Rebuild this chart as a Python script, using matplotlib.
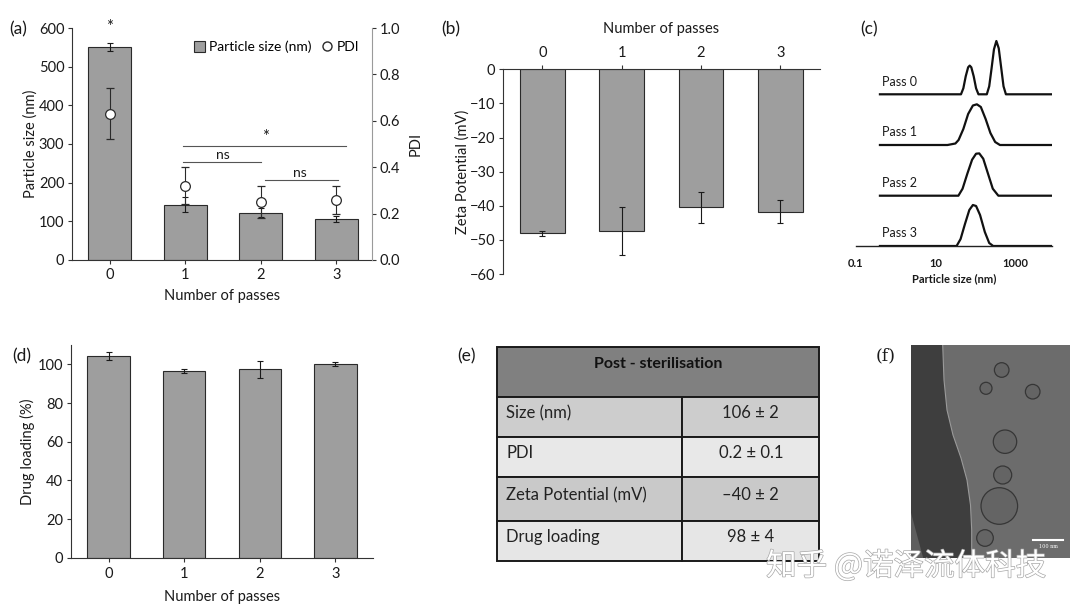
import matplotlib
matplotlib.use('Agg')
import matplotlib.pyplot as plt
import matplotlib.patheffects as pe
from matplotlib.patches import Rectangle, Polygon, Circle
from matplotlib.lines import Line2D

plt.rcParams['font.family'] = ['Lato', 'DejaVu Sans']
plt.rcParams['axes.unicode_minus'] = True

# ---------------- data ----------------
passes = [0, 1, 2, 3]
pass_labels = ['0', '1', '2', '3']

size_nm = [550, 143, 122, 105]
size_err = [10, 19, 12, 8]
pdi = [0.63, 0.32, 0.25, 0.26]
pdi_err = [0.11, 0.08, 0.07, 0.06]

sig_lines = [(0.97, 3.13, 296), (0.97, 2.0, 254), (2.05, 3.02, 207)]
sig_texts = [('*', 2.06, 318), ('ns', 1.5, 272), ('ns', 2.51, 226)]
sig_top = ('*', 0, 603)

zeta = [-48.1, -47.4, -40.5, -41.7]
zeta_err = [0.8, 7.1, 4.6, 3.4]

drug = [104.3, 96.5, 97.4, 100.0]
drug_err = [2.0, 1.2, 4.3, 1.0]

# DLS size distributions (size in nm, intensity in arbitrary units)
dist_names = ['Pass 0', 'Pass 1', 'Pass 2', 'Pass 3']
dist_offsets = [151.7, 101.0, 50.3, 0.0]
dist0_x = [0.4, 43.7, 50.1, 57.5, 66.1, 72.4, 79.4, 91.2, 104.7, 120.2,
           195, 224, 257, 295, 339, 389, 447, 513, 589, 8000]
dist0_y = [0, 0, 6, 18, 27, 28.7, 27, 18, 6, 0,
           0, 8, 26, 45, 53.3, 46, 27, 8, 0, 0]
dist1_x = [0.4, 20, 31.6, 38, 50.1, 66.1, 87.1, 109.6, 138, 182, 240, 316, 417, 8000]
dist1_y = [0, 0, 1.5, 5, 16, 31, 39.5, 40.7, 38, 26, 12, 3, 0, 0]
dist2_x = [0.4, 37.6, 47.9, 63.1, 83.2, 104.7, 125.9, 158.5, 208.9, 275.4, 380.2, 8000]
dist2_y = [0, 0, 7, 22, 36, 42, 42.3, 37, 22, 7, 0, 0]
dist3_x = [0.4, 33.9, 42.7, 55.0, 70.8, 87.1, 104.7, 131.8, 173.8, 223.9, 281.8, 8000]
dist3_y = [0, 0, 7, 22, 36, 41, 40, 31, 14, 3, 0, 0]
dist_ticks = [0.1, 10, 1000]
dist_ticklabels = ['0.1', '10', '1000']

table_header = 'Post - sterilisation'
table_params = ['Size (nm)', 'PDI', 'Zeta Potential (mV)', 'Drug loading']
table_values = ['106 \u00b1 2', '0.2 \u00b1 0.1', '\u201340 \u00b1 2', '98 \u00b1 4']

# TEM micrograph features (pixel frame)
tem_edge_x = [942.7, 944, 947, 953, 961, 967, 970.5, 971.7, 971.7]
tem_edge_y = [345, 380, 410, 435, 458, 480, 505, 530, 558.3]
tem_vesicles = [(1001.7, 370, 7.3), (986, 388.3, 6), (1032.7, 391.7, 7.3),
                (1005, 441.7, 11.7), (1002.7, 475, 9), (999.3, 506, 18.3),
                (985, 538, 8.3)]

# ---------------- style ----------------
W, H = 1080, 609
BAR = '#9e9e9e'
EDGE = '#2a2a2a'
AX = '#333333'
TXT = '#1a1a1a'
FS = 10.5
FL = 10.5

fig = plt.figure(figsize=(W / 100, H / 100), dpi=100)


def ax_px(l, t, r, b):
    return fig.add_axes([l / W, 1 - b / H, (r - l) / W, (b - t) / H])


def fpx(x, y):
    return x / W, 1 - y / H


def style_axes(ax):
    for s in ax.spines.values():
        s.set_color(AX)
        s.set_linewidth(0.8)
    ax.tick_params(colors=AX, labelcolor=TXT, labelsize=FS, length=3, width=0.8, pad=2.5)


err_kw = dict(fmt='none', ecolor='#1a1a1a', elinewidth=0.8, capsize=2.5, capthick=0.8)

# ---------------- (a) ----------------
axa = ax_px(72, 28, 372, 260)
axa.bar(passes, size_nm, width=0.57, color=BAR, edgecolor=EDGE, linewidth=0.8, zorder=2)
axa.errorbar(passes, size_nm, yerr=size_err, zorder=3, **err_kw)
axa.set_xlim(-0.5, 3.47)
axa.set_ylim(0, 600)
axa.set_yticks(range(0, 601, 100))
axa.set_xticks(passes)
axa.set_xticklabels(pass_labels)
style_axes(axa)
axa.spines['top'].set_visible(False)
axa.spines['right'].set_visible(False)
axa.set_ylabel('Particle size (nm)', fontsize=FL, color=TXT, labelpad=1)
axa.set_xlabel('Number of passes', fontsize=FL, color=TXT, labelpad=5)
for (x1, x2, y) in sig_lines:
    axa.plot([x1, x2], [y, y], color='#555555', lw=0.8, zorder=4)
for (t, x, y) in sig_texts:
    axa.text(x, y, t, ha='center', va='center', fontsize=10 if t == 'ns' else 12, color=TXT)
axa.text(sig_top[1], sig_top[2], sig_top[0], ha='center', va='center', fontsize=12,
         color=TXT, clip_on=False)

ax2 = axa.twinx()
ax2.set_ylim(0, 1)
ax2.set_yticks([0, 0.2, 0.4, 0.6, 0.8, 1.0])
ax2.set_yticklabels(['0.0', '0.2', '0.4', '0.6', '0.8', '1.0'])
ax2.errorbar(passes, pdi, yerr=pdi_err, fmt='o', mfc='white', mec='#2a2a2a', mew=0.9,
             ms=7, ecolor='#2a2a2a', elinewidth=0.8, capsize=3, capthick=0.8, zorder=5)
style_axes(ax2)
ax2.spines['top'].set_visible(False)
ax2.spines['left'].set_visible(False)
ax2.spines['bottom'].set_visible(False)
ax2.spines['right'].set_color('#9a9a9a')
ax2.set_ylabel('PDI', fontsize=FL, color=TXT, labelpad=6)

handles = [Rectangle((0, 0), 1, 1, facecolor=BAR, edgecolor=EDGE, lw=0.8),
           Line2D([], [], ls='none', marker='o', mfc='white', mec='#2a2a2a', ms=6.5)]
ax2.legend(handles, ['Particle size (nm)', 'PDI'], ncol=2, frameon=False,
           loc='center right', bbox_to_anchor=(0.975, 0.918), fontsize=10,
           handlelength=0.8, handleheight=0.8, handletextpad=0.3, columnspacing=0.7,
           borderaxespad=0)

# ---------------- (b) ----------------
axb = ax_px(502.7, 69.3, 820, 274)
axb.bar(passes, zeta, width=0.56, color=BAR, edgecolor=EDGE, linewidth=0.8, zorder=2)
axb.errorbar(passes, zeta, yerr=zeta_err, zorder=3, **err_kw)
axb.set_xlim(-0.5, 3.5)
axb.set_ylim(-60, 0)
axb.set_yticks(range(-60, 1, 10))
axb.set_xticks(passes)
axb.set_xticklabels(pass_labels)
axb.xaxis.tick_top()
axb.xaxis.set_label_position('top')
style_axes(axb)
axb.tick_params(axis='x', pad=4)
axb.spines['bottom'].set_visible(False)
axb.spines['right'].set_visible(False)
axb.set_xlabel('Number of passes', fontsize=FL, color=TXT, labelpad=9)
axb.set_ylabel('Zeta Potential (mV)', fontsize=FL, color=TXT, labelpad=0)

# ---------------- (c) ----------------
axc = ax_px(856, 36, 1052, 246)
xs = [dist0_x, dist1_x, dist2_x, dist3_x]
ys = [dist0_y, dist1_y, dist2_y, dist3_y]
for name, off, x, y in zip(dist_names, dist_offsets, xs, ys):
    axc.plot(x, [v + off for v in y], color='#111111', lw=1.6, solid_joinstyle='round')
    axc.text(0.45, off + 12.5, name, fontsize=9, color=TXT, ha='left', va='center')
axc.set_xscale('log')
axc.set_xlim(0.1, 8500)
axc.set_ylim(0, 210)
axc.set_yticks([])
axc.set_xticks(dist_ticks)
axc.set_xticklabels(dist_ticklabels, fontweight='bold')
axc.minorticks_off()
axc.tick_params(axis='x', length=0, labelsize=8, pad=9, labelcolor=TXT)
for s in ['top', 'right', 'left']:
    axc.spines[s].set_visible(False)
axc.spines['bottom'].set_color('#222222')
axc.spines['bottom'].set_linewidth(1.0)
axc.set_xlabel('Particle size (nm)', fontsize=8, fontweight='bold', color=TXT, labelpad=3)

# ---------------- (d) ----------------
axd = ax_px(70.7, 345, 373.3, 557.7)
axd.bar(passes, drug, width=0.56, color=BAR, edgecolor=EDGE, linewidth=0.8, zorder=2)
axd.errorbar(passes, drug, yerr=drug_err, zorder=3, **err_kw)
axd.set_xlim(-0.5, 3.5)
axd.set_ylim(0, 110)
axd.set_yticks(range(0, 101, 20))
axd.set_xticks(passes)
axd.set_xticklabels(pass_labels)
style_axes(axd)
axd.tick_params(axis='x', pad=4)
axd.spines['top'].set_visible(False)
axd.spines['right'].set_visible(False)
axd.set_ylabel('Drug loading (%)', fontsize=FL, color=TXT, labelpad=2)
axd.set_xlabel('Number of passes', fontsize=FL, color=TXT, labelpad=6)

# ---------------- (e) table ----------------
tl, tr, tt, tb = 497.3, 819.3, 346.7, 560.7
row_edges = [396.7, 437.3, 477.3, 520.7, 560.7]
col_div = 682.3
axe = ax_px(tl - 2, tt - 2, tr + 2, tb + 2)
axe.set_xlim(tl - 2, tr + 2)
axe.set_ylim(tb + 2, tt - 2)
axe.axis('off')
axe.add_patch(Rectangle((tl, tt), tr - tl, row_edges[0] - tt, facecolor='#808080',
                        edgecolor='#1a1a1a', lw=1.4))
axe.text((tl + tr) / 2, tt + 17, table_header, ha='center', va='center', fontsize=11.5,
         fontweight='bold', color='#111111')
row_cols = ['#cdcdcd', '#e8e8e8', '#c9c9c9', '#e6e6e6']
prev = row_edges[0]
for i, (p, v) in enumerate(zip(table_params, table_values)):
    y1 = row_edges[i + 1]
    axe.add_patch(Rectangle((tl, prev), col_div - tl, y1 - prev, facecolor=row_cols[i],
                            edgecolor='#1a1a1a', lw=1.4))
    axe.add_patch(Rectangle((col_div, prev), tr - col_div, y1 - prev, facecolor=row_cols[i],
                            edgecolor='#1a1a1a', lw=1.4))
    yc = (prev + y1) / 2 - 4
    axe.text(tl + 9, yc, p, ha='left', va='center', fontsize=12, color='#222222')
    axe.text((col_div + tr) / 2, yc, v, ha='center', va='center', fontsize=12, color='#222222')
    prev = y1

# ---------------- (f) TEM image ----------------
fl, fr, ft, fb = 910.7, 1070, 345, 558.3
axf = ax_px(fl, ft, fr, fb)
axf.set_xlim(fl, fr)
axf.set_ylim(fb, ft)
axf.set_xticks([])
axf.set_yticks([])
for s in axf.spines.values():
    s.set_visible(False)
axf.set_facecolor('#6c6c6c')
dark = list(zip(tem_edge_x, tem_edge_y)) + [(fl, fb), (fl, ft)]
axf.add_patch(Polygon(dark, closed=True, facecolor='#3e3e3e', edgecolor='none'))
axf.plot(tem_edge_x, tem_edge_y, color='#9a9a9a', lw=0.8)
axf.add_patch(Polygon([(fl, 511.7), (923.3, fb), (fl, fb)], closed=True,
                      facecolor='#5e5e5e', edgecolor='none'))
for (cx, cy, r) in tem_vesicles:
    axf.add_patch(Circle((cx, cy), r, facecolor='#646464', edgecolor='#363636', lw=0.9))
axf.plot([1032.7, 1063.3], [540, 540], color='white', lw=1.5)
axf.text(1048, 547, '100 nm', color='white', fontsize=3.5, ha='center', va='center',
         family=['DejaVu Serif'])

# ---------------- panel labels ----------------
for lab, (x, y), fam in [('(a)', (18, 29), None), ('(b)', (451, 29), None),
                         ('(c)', (869, 29), None), ('(d)', (22, 356), None),
                         ('(e)', (466, 356), None), ('(f)', (886, 356), 'DejaVu Serif')]:
    kw = {}
    if fam:
        kw['family'] = [fam]
    fig.text(*fpx(x, y), lab, fontsize=12.5, color=TXT, ha='center', va='center', **kw)

# ---------------- watermark ----------------
fig.text(*fpx(906, 566), '知乎 @诺泽流体科技', fontsize=22, color='white', ha='center',
         va='center', family=['Noto Sans CJK SC', 'DejaVu Sans'],
         path_effects=[pe.withStroke(linewidth=1.0, foreground='#a8a8a8')])

fig.savefig('out.png', dpi=100)
